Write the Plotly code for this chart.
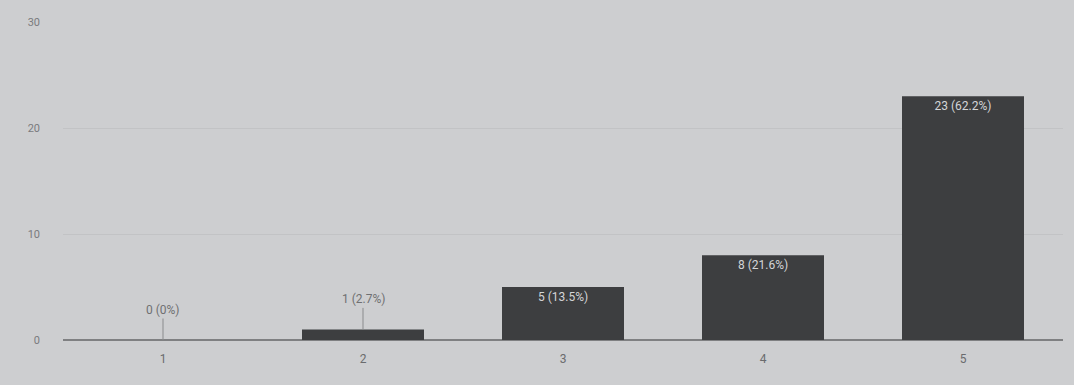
import plotly.graph_objects as go

# Rating scale responses
categories = ["1", "2", "3", "4", "5"]
counts = [0, 1, 5, 8, 23]
total = sum(counts)
percents = [round(c / total * 100, 1) for c in counts]

y_ticks = [0, 10, 20, 30]


def label(c, p):
    txt = f"{p:.1f}".rstrip("0").rstrip(".")
    return f"{c} ({txt}%)"


labels = [label(c, p) for c, p in zip(counts, percents)]

# Values too small to hold a label get an outside leader-line annotation
small = [c < 3 for c in counts]
inside_text = [("" if s else t) for s, t in zip(small, labels)]

fig = go.Figure()
fig.add_trace(go.Bar(
    x=categories,
    y=counts,
    marker=dict(color="#3d3e40", line=dict(width=0)),
    width=0.61,
    text=inside_text,
    textposition="inside",
    insidetextanchor="end",
    textfont=dict(family="Roboto, Arial, sans-serif", size=12, color="#d4d5d7"),
    cliponaxis=False,
    hoverinfo="skip",
))

for i, (c, t, s) in enumerate(zip(counts, labels, small)):
    if s:
        fig.add_annotation(
            x=i, y=c, xref="x", yref="y",
            text=t, showarrow=True, arrowhead=0, arrowwidth=1,
            arrowcolor="#8a8b8d", ax=0, ay=-30,
            font=dict(family="Roboto, Arial, sans-serif", size=12, color="#6f7072"),
        )

fig.update_layout(
    width=1074, height=385,
    margin=dict(l=63, r=11, t=22, b=45),
    paper_bgcolor="#cdced0",
    plot_bgcolor="#cdced0",
    showlegend=False,
    bargap=0.39,
    font=dict(family="Roboto, Arial, sans-serif", size=12, color="#707173"),
    xaxis=dict(
        type="category",
        showgrid=False, zeroline=False, showline=False,
        ticks="", ticklabelstandoff=10,
        tickfont=dict(size=12, color="#6a6b6d"),
    ),
    yaxis=dict(
        range=[0, 30], tickvals=y_ticks,
        showgrid=True, gridcolor="#c2c3c5", gridwidth=1,
        zeroline=True, zerolinecolor="#7f8082", zerolinewidth=2,
        showline=False, ticks="", ticklabelstandoff=22,
        tickfont=dict(size=11, color="#7a7b7d"),
    ),
)

fig.write_html("out.html")
